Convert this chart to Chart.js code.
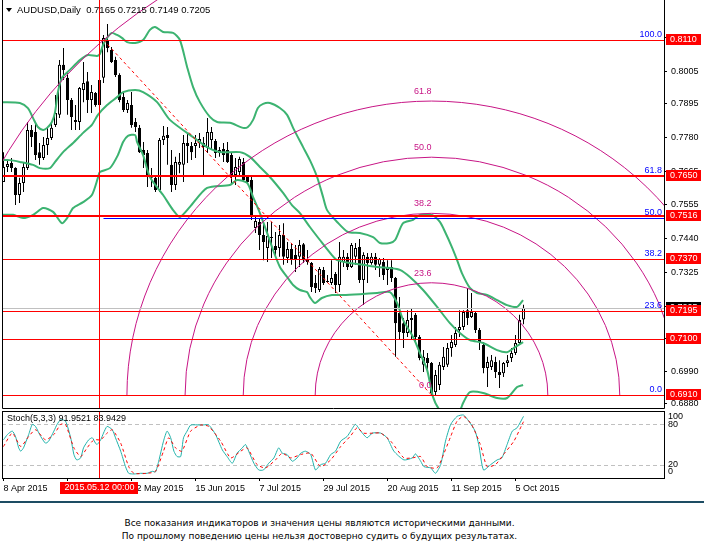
<!DOCTYPE html>
<html>
<head>
<meta charset="utf-8">
<title>AUDUSD, Daily</title>
<script src="https://cdn.jsdelivr.net/npm/chart.js@4.4.1/dist/chart.umd.min.js"></script>
<style>
  html, body { margin: 0; padding: 0; background: #fff; }
  body { position: relative; width: 704px; height: 552px; overflow: hidden; font-family: "Liberation Sans", Arial, sans-serif; }
  canvas { position: absolute; left: 0; }
  #main { top: 0; }
  #stoch { top: 400px; }
  #head { position: absolute; left: 6px; top: 4px; font-size: 9.5px; line-height: 12px; white-space: pre; color: #000; }
  #head .tri { display: inline-block; width: 0; height: 0; border-left: 3.5px solid transparent; border-right: 3.5px solid transparent; border-top: 4px solid #000; margin-right: 5px; vertical-align: 1px; }
  #rule { position: absolute; left: 0; top: 501px; width: 704px; height: 2px; background: #1d4c63; }
  #note { position: absolute; left: 0; top: 517px; width: 639px; text-align: center; font-family: "DejaVu Sans", sans-serif; font-size: 9px; line-height: 13px; color: #000; }
</style>
</head>
<body>
<canvas id="main" width="704" height="420"></canvas>
<canvas id="stoch" width="704" height="100"></canvas>
<div id="head"><span class="tri"></span><span id="headText"></span></div>
<div id="rule"></div>
<div id="note">Все показания индикаторов и значения цены являются историческими данными.<br>По прошлому поведению цены нельзя достоверно судить о будущих результатах.</div>
<script>
// daily bars, 8 Apr 2015 .. 7 Oct 2015 (index 0 .. 130)
const open = [0.7630,0.7681,0.7694,0.7677,0.7586,0.7627,0.7677,0.7806,0.7799,0.7731,0.7711,0.7755,0.7779,0.7823,0.7857,0.8026,0.7982,0.7907,0.7840,0.7833,
  0.7941,0.7971,0.7907,0.7931,0.7890,0.7982,0.8110,0.8076,0.8042,0.7992,0.7917,0.7873,0.7890,0.7833,0.7813,0.7738,0.7728,0.7650,0.7644,0.7603,
  0.7772,0.7789,0.7688,0.7620,0.7688,0.7688,0.7762,0.7752,0.7752,0.7762,0.7762,0.7745,0.7772,0.7769,0.7728,0.7742,0.7738,0.7721,0.7654,0.7664,
  0.7698,0.7647,0.7637,0.7475,0.7495,0.7451,0.7407,0.7444,0.7414,0.7407,0.7451,0.7373,0.7404,0.7383,0.7377,0.7420,0.7370,0.7356,0.7289,0.7265,
  0.7333,0.7295,0.7289,0.7319,0.7282,0.7360,0.7377,0.7343,0.7377,0.7410,0.7299,0.7377,0.7356,0.7377,0.7350,0.7360,0.7333,0.7343,0.7306,0.7187,
  0.7153,0.7120,0.7164,0.7181,0.7106,0.7012,0.7035,0.7018,0.6920,0.6944,0.7005,0.7012,0.7069,0.7079,0.7130,0.7140,0.7197,0.7174,0.7187,0.7130,
  0.7079,0.7001,0.7005,0.7022,0.6988,0.6984,0.7018,0.7035,0.7052,0.7086,0.7165];
const high = [0.7731,0.7704,0.7711,0.7680,0.7644,0.7698,0.7833,0.7823,0.7833,0.7762,0.7782,0.7816,0.7833,0.7924,0.8042,0.8083,0.7998,0.7914,0.7890,0.7951,
  0.8036,0.8002,0.7958,0.7934,0.7982,0.8127,0.8164,0.8086,0.8053,0.7998,0.7931,0.7907,0.7934,0.7846,0.7823,0.7765,0.7738,0.7677,0.7647,0.7779,
  0.7819,0.7816,0.7738,0.7715,0.7728,0.7789,0.7796,0.7765,0.7789,0.7796,0.7782,0.7846,0.7816,0.7775,0.7748,0.7762,0.7765,0.7728,0.7711,0.7715,
  0.7711,0.7654,0.7647,0.7512,0.7508,0.7495,0.7495,0.7495,0.7461,0.7485,0.7491,0.7427,0.7424,0.7417,0.7434,0.7424,0.7400,0.7360,0.7316,0.7343,
  0.7343,0.7316,0.7366,0.7326,0.7427,0.7400,0.7390,0.7424,0.7424,0.7437,0.7393,0.7390,0.7390,0.7390,0.7373,0.7373,0.7366,0.7366,0.7309,0.7241,
  0.7170,0.7197,0.7204,0.7187,0.7113,0.7062,0.7052,0.7022,0.6995,0.7022,0.7072,0.7086,0.7113,0.7140,0.7197,0.7197,0.7272,0.7255,0.7191,0.7137,
  0.7089,0.7039,0.7045,0.7039,0.7028,0.7022,0.7045,0.7069,0.7113,0.7181,0.7215];
const low = [0.7630,0.7664,0.7664,0.7552,0.7559,0.7596,0.7671,0.7748,0.7704,0.7688,0.7704,0.7721,0.7772,0.7816,0.7846,0.7975,0.7857,0.7806,0.7806,0.7806,
  0.7900,0.7863,0.7863,0.7884,0.7880,0.7965,0.8069,0.8032,0.7985,0.7900,0.7867,0.7863,0.7813,0.7799,0.7728,0.7677,0.7613,0.7613,0.7596,0.7596,
  0.7755,0.7688,0.7596,0.7603,0.7660,0.7630,0.7694,0.7704,0.7711,0.7745,0.7647,0.7728,0.7738,0.7711,0.7715,0.7698,0.7694,0.7627,0.7620,0.7654,
  0.7630,0.7627,0.7502,0.7458,0.7400,0.7366,0.7360,0.7373,0.7373,0.7377,0.7350,0.7356,0.7350,0.7326,0.7343,0.7356,0.7350,0.7258,0.7255,0.7258,
  0.7282,0.7289,0.7282,0.7255,0.7258,0.7343,0.7333,0.7339,0.7350,0.7289,0.7214,0.7289,0.7350,0.7333,0.7309,0.7299,0.7282,0.7292,0.7039,0.7096,
  0.7069,0.7106,0.7096,0.7086,0.7028,0.6988,0.6995,0.6910,0.6907,0.6927,0.6995,0.7005,0.7039,0.7072,0.7106,0.7130,0.7147,0.7170,0.7120,0.7062,
  0.6984,0.6937,0.6995,0.6968,0.6934,0.6971,0.7005,0.7022,0.7045,0.7079,0.7149];
const close = [0.7681,0.7691,0.7677,0.7586,0.7627,0.7681,0.7806,0.7782,0.7721,0.7711,0.7755,0.7779,0.7813,0.7863,0.8026,0.8009,0.7907,0.7850,0.7833,0.7948,
  0.7965,0.7907,0.7934,0.7890,0.7975,0.8117,0.8083,0.8036,0.7992,0.7907,0.7873,0.7897,0.7823,0.7816,0.7731,0.7721,0.7654,0.7644,0.7603,0.7772,
  0.7786,0.7779,0.7620,0.7698,0.7698,0.7762,0.7752,0.7731,0.7762,0.7775,0.7748,0.7799,0.7799,0.7728,0.7738,0.7721,0.7698,0.7654,0.7681,0.7708,
  0.7637,0.7630,0.7512,0.7498,0.7451,0.7427,0.7448,0.7441,0.7400,0.7451,0.7377,0.7404,0.7370,0.7370,0.7417,0.7366,0.7360,0.7275,0.7272,0.7336,
  0.7289,0.7292,0.7306,0.7282,0.7377,0.7377,0.7343,0.7417,0.7407,0.7299,0.7383,0.7356,0.7377,0.7350,0.7370,0.7316,0.7343,0.7306,0.7153,0.7123,
  0.7120,0.7164,0.7170,0.7106,0.7035,0.7039,0.7018,0.6917,0.6978,0.7012,0.7039,0.7069,0.7089,0.7120,0.7140,0.7191,0.7170,0.7191,0.7130,0.7089,
  0.7001,0.7022,0.7028,0.6988,0.6978,0.7018,0.7028,0.7052,0.7086,0.7164,0.7205];

// Bollinger bands (bar index, price)
const upperX = [-0.4,4.1,6.1,7.4,8.6,9.9,10.9,12.1,12.9,13.6,14.6,16.6,19.1,21.1,23.4,24.1,24.9,25.9,27.1,28.4,29.6,30.9,32.9,34.9,36.6,37.9,39.9,42.4,44.1,45.9,47.4,49.1,51.6,53.4,56.6,59.9,61.1,62.4,63.6,64.9,66.6,69.1,70.9,72.4,74.9,76.6,78.4,79.9,80.9,83.4,86.1,89.1,92.4,94.1,96.6,97.9,99.9,102.4,104.1,107.1,109.1,110.4,112.1,113.4,114.6,116.6,118.4,120.9,123.4,125.9,128.4,129.9];
const upperY = [0.7900,0.7897,0.7880,0.7846,0.7816,0.7806,0.7813,0.7833,0.7867,0.7934,0.7982,0.8009,0.8042,0.8059,0.8056,0.8063,0.8093,0.8117,0.8134,0.8127,0.8117,0.8103,0.8100,0.8110,0.8144,0.8154,0.8137,0.8134,0.8110,0.8019,0.7951,0.7900,0.7850,0.7833,0.7830,0.7813,0.7816,0.7840,0.7880,0.7894,0.7897,0.7880,0.7857,0.7813,0.7748,0.7704,0.7647,0.7579,0.7535,0.7495,0.7461,0.7458,0.7444,0.7424,0.7424,0.7434,0.7491,0.7502,0.7519,0.7519,0.7495,0.7461,0.7410,0.7366,0.7322,0.7272,0.7255,0.7248,0.7231,0.7214,0.7208,0.7231];
const middleX = [-0.4,1.6,4.1,7.4,9.1,11.6,12.9,14.9,17.4,19.9,22.1,23.6,25.9,28.4,29.9,32.9,34.9,38.4,41.6,48.4,50.9,54.1,59.1,61.6,64.1,66.6,69.9,72.1,74.1,76.6,79.1,82.1,83.4,86.6,89.9,93.4,96.6,99.1,101.6,104.9,108.4,111.6,114.1,116.6,119.9,123.4,125.9,127.9,129.9];
const middleY = [0.7704,0.7704,0.7698,0.7688,0.7677,0.7677,0.7698,0.7731,0.7762,0.7796,0.7823,0.7857,0.7890,0.7917,0.7934,0.7941,0.7934,0.7900,0.7840,0.7772,0.7748,0.7731,0.7731,0.7715,0.7681,0.7647,0.7593,0.7552,0.7525,0.7478,0.7434,0.7383,0.7366,0.7356,0.7350,0.7343,0.7339,0.7333,0.7309,0.7265,0.7208,0.7153,0.7120,0.7096,0.7086,0.7062,0.7055,0.7072,0.7089];
const lowerX = [-0.4,2.4,4.9,7.4,9.9,12.4,14.6,15.9,17.4,19.9,22.1,23.6,24.1,26.6,28.6,29.9,31.1,32.9,33.4,34.9,36.6,39.9,42.4,44.1,46.6,50.9,56.6,58.4,60.9,62.4,64.1,65.9,67.4,69.1,70.9,72.4,74.1,75.9,76.6,77.9,79.6,82.1,84.9,89.1,93.4,96.6,98.4,99.9,102.4,104.1,105.9,107.4,109.1,111.6,114.1,114.9,116.6,119.9,123.4,125.9,128.4,129.9];
const lowerY = [0.7519,0.7519,0.7508,0.7519,0.7542,0.7529,0.7491,0.7508,0.7542,0.7562,0.7586,0.7644,0.7664,0.7677,0.7721,0.7765,0.7786,0.7789,0.7765,0.7721,0.7647,0.7586,0.7535,0.7512,0.7546,0.7610,0.7620,0.7637,0.7627,0.7579,0.7525,0.7458,0.7400,0.7343,0.7309,0.7282,0.7265,0.7258,0.7241,0.7221,0.7238,0.7248,0.7248,0.7251,0.7255,0.7258,0.7221,0.7164,0.7106,0.7052,0.6995,0.6903,0.6859,0.6839,0.6859,0.6883,0.6920,0.6917,0.6900,0.6900,0.6937,0.6944];

// Stochastic (5,3,3)
const stochKx = [0,1,2.2,3,3.8,4.3,5,6.3,7.2,8,9.3,10.5,11.3,12.6,13.4,14.3,15.5,16.8,17.6,18.3,19.3,20,21.3,22.2,23,23.4,24.3,25,25.9,27.2,28,29.3,30.5,31.3,32.6,34.3,35.9,37.2,38,38.8,40,40.9,41.8,42.6,43.4,44.3,45,45.9,46.8,49.3,51.3,53,54.7,55.9,57.2,58.4,59.7,60.5,61.3,62.6,63.8,65,66.3,67.6,68.8,69.7,70.9,72.2,73.4,74.3,75.5,76.8,78,79.3,80.5,81.8,83,84.3,85.9,86.8,88,89.3,90.9,92.2,94.3,95.9,97.6,100.1,102.2,103,104.3,105.1,106.8,108,109.3,110.5,111.8,113.4,115,116.3,117.9,118.8,120,121.8,123.4,124.6,125.9,127.2,128.4,130];
const stochK = [57,65,70,62,45,40,45,65,80,77,62,52,55,70,80,87,85,60,35,27,30,45,57,60,52,50,57,67,77,72,60,40,17,7,6,7,7,10,9,25,55,70,60,40,32,32,60,70,79,79,79,65,42,32,22,37,45,50,40,22,12,12,22,30,45,37,35,25,30,37,40,35,12,20,22,35,40,55,62,70,80,70,60,67,67,60,40,27,30,36,25,17,15,7,20,55,80,92,94,85,70,50,12,20,27,30,50,70,75,92];
const stochDx = [0,2.2,4.3,6.3,8,10.5,12.6,14.3,15.5,17.6,19.3,20.9,22.6,24.3,25.9,27.2,29.3,31.3,32.6,35.9,38,40,41.3,43,44.6,46.8,49.3,51.3,54.3,56.8,59.3,60.9,63.4,65.5,68,69.7,71.8,74.3,76.8,79.3,81.8,84.3,86.8,88.4,90,92.6,94.3,96.8,100.1,102.2,104.3,105.9,108.4,110,111.8,113.4,115,117,119.2,120.9,123,125,127.6,129.5,130];
const stochD = [47,67,47,62,72,57,65,80,80,45,32,45,57,57,67,72,52,17,7,7,10,40,60,45,40,70,79,77,55,30,40,45,20,15,27,37,30,35,37,17,27,47,63,75,67,67,67,55,30,30,32,17,15,35,62,85,92,80,50,17,20,35,55,78,84];
const stochLast = [91.9521, 83.9429];
const stochLevels = [80, 20];
const stochAxis = [100, 80, 20, 0];

// axes
const priceTicks = [0.8120,0.8005,0.7895,0.7780,0.7665,0.7555,0.7440,0.7325,0.7210,0.7100,0.6990,0.6880];
const dateTicks = [0,16,32,48,64,80,96,112,128];
const dateLabels = ['8 Apr 2015','30 Apr 2015','22 May 2015','15 Jun 2015','7 Jul 2015','29 Jul 2015','20 Aug 2015','11 Sep 2015','5 Oct 2015'];
const cursorBar = 24;
const cursorLabel = '2015.05.12 00:00';

// drawn objects
const levels = [0.8110, 0.7650, 0.7516, 0.7370, 0.7195, 0.7100, 0.6910];
const thickLevels = [0.7650, 0.7516];
const fiboFrom = [25, 0.8110];
const fiboTo = [107, 0.6910];
const fiboLevels = [0, 23.6, 38.2, 50, 61.8, 100];

const symbol = 'AUDUSD,Daily';
const N = close.length;
const fmt = v => v.toFixed(4);
const green = '#3cb371';
const arcColor = '#c71585';
const arcAspect = 1.036;
const labelFont = '9px "Liberation Sans", Arial, sans-serif';

document.getElementById('headText').textContent =
  symbol + '  ' + [open[N - 1], high[N - 1], low[N - 1], close[N - 1]].map(fmt).join(' ');

const crisp = v => Math.round(v) + 0.5;

const mainOverlay = {
  id: 'mainOverlay',
  afterDatasetsDraw(chart) {
    const { ctx, chartArea: a, scales: { x, y } } = chart;
    const px = v => x.getPixelForValue(v), py = v => y.getPixelForValue(v);
    ctx.save();
    ctx.beginPath();
    ctx.rect(a.left, a.top, a.right - a.left, a.bottom - a.top);
    ctx.clip();

    const x1 = px(fiboFrom[0]), y1 = py(fiboFrom[1]);
    const x2 = px(fiboTo[0]), y2 = py(fiboTo[1]);
    const ry = Math.hypot((x2 - x1) / arcAspect, y2 - y1);
    const rx = ry * arcAspect;

    // fibo arcs
    ctx.lineWidth = 1;
    ctx.strokeStyle = arcColor;
    fiboLevels.forEach(lv => {
      if (!lv) return;
      ctx.beginPath();
      ctx.ellipse(x2, y2, rx * lv / 100, ry * lv / 100, 0, Math.PI, 2 * Math.PI);
      ctx.stroke();
    });

    // trend line of the arcs
    ctx.strokeStyle = '#ff0000';
    ctx.setLineDash([3, 3]);
    ctx.beginPath();
    ctx.moveTo(x1, y1);
    ctx.lineTo(x2, y2);
    ctx.stroke();
    ctx.setLineDash([]);

    // fibo retracement rays
    const span = fiboFrom[1] - fiboTo[1];
    ctx.strokeStyle = '#0000ff';
    fiboLevels.forEach(lv => {
      const yy = crisp(py(fiboTo[1] + span * lv / 100));
      ctx.beginPath();
      ctx.moveTo(x1, yy);
      ctx.lineTo(a.right, yy);
      ctx.stroke();
    });

    // bid line
    ctx.strokeStyle = '#c0c0c0';
    const by = crisp(py(close[N - 1]));
    ctx.beginPath();
    ctx.moveTo(a.left, by);
    ctx.lineTo(a.right, by);
    ctx.stroke();

    // horizontal levels
    ctx.strokeStyle = '#ff0000';
    levels.forEach(v => {
      const thick = thickLevels.includes(v);
      ctx.lineWidth = thick ? 2 : 1;
      const yy = thick ? Math.round(py(v)) : crisp(py(v));
      ctx.beginPath();
      ctx.moveTo(a.left, yy);
      ctx.lineTo(a.right, yy);
      ctx.stroke();
    });

    // cursor line
    ctx.lineWidth = 1;
    const cx = Math.floor(px(cursorBar)) + 0.5;
    ctx.beginPath();
    ctx.moveTo(cx, a.top);
    ctx.lineTo(cx, a.bottom);
    ctx.stroke();

    // labels
    ctx.font = labelFont;
    ctx.textAlign = 'right';
    ctx.textBaseline = 'alphabetic';
    ctx.fillStyle = arcColor;
    fiboLevels.forEach(lv => ctx.fillText(lv.toFixed(1), x2, y2 - ry * lv / 100 - 7));
    ctx.fillStyle = '#0000ff';
    fiboLevels.forEach(lv => ctx.fillText(lv.toFixed(1), a.right - 2, py(fiboTo[1] + span * lv / 100) - 3));
    ctx.restore();

    // frame
    ctx.save();
    ctx.strokeStyle = '#000';
    ctx.lineWidth = 1;
    ctx.beginPath();
    ctx.moveTo(a.left + 0.5, a.top);
    ctx.lineTo(a.left + 0.5, a.bottom + 0.5);
    ctx.lineTo(a.right + 0.5, a.bottom + 0.5);
    ctx.lineTo(a.right + 0.5, a.top);
    ctx.stroke();
    ctx.restore();
  },
  afterDraw(chart) {
    const { ctx, chartArea: a, scales: { y } } = chart;
    ctx.save();
    ctx.font = labelFont;
    ctx.textAlign = 'left';
    ctx.textBaseline = 'middle';
    const box = (v, bg) => {
      const top = Math.round(y.getPixelForValue(v)) - 6;
      ctx.fillStyle = bg;
      ctx.fillRect(a.right + 2, top, 35, 11);
      ctx.fillStyle = '#fff';
      ctx.fillText(fmt(v), a.right + 6, top + 6);
    };
    box(close[N - 1], '#000');
    levels.forEach(v => box(v, '#ff0000'));
    ctx.restore();
  }
};

const stochOverlay = {
  id: 'stochOverlay',
  beforeDatasetsDraw(chart) {
    const { ctx, chartArea: a, scales: { y } } = chart;
    ctx.save();
    ctx.strokeStyle = '#c0c0c0';
    ctx.lineWidth = 1;
    ctx.setLineDash([4, 3]);
    stochLevels.forEach(v => {
      const yy = crisp(y.getPixelForValue(v));
      ctx.beginPath();
      ctx.moveTo(a.left, yy);
      ctx.lineTo(a.right, yy);
      ctx.stroke();
    });
    ctx.restore();
  },
  afterDatasetsDraw(chart) {
    const { ctx, chartArea: a, scales: { x } } = chart;
    ctx.save();
    ctx.strokeStyle = '#ff0000';
    ctx.lineWidth = 1;
    const cx = Math.floor(x.getPixelForValue(cursorBar)) + 0.5;
    ctx.beginPath();
    ctx.moveTo(cx, a.top);
    ctx.lineTo(cx, a.bottom);
    ctx.stroke();
    ctx.strokeStyle = '#000';
    ctx.strokeRect(a.left + 0.5, a.top + 0.5, a.right - a.left, a.bottom - a.top);
    ctx.font = labelFont;
    ctx.fillStyle = '#000';
    ctx.textAlign = 'left';
    ctx.textBaseline = 'middle';
    ctx.fillText('Stoch(5,3,3) ' + stochLast.map(fmt).join(' '), a.left + 5, a.top + 8);
    ctx.restore();
  },
  afterDraw(chart) {
    const { ctx, chartArea: a, scales: { x, y } } = chart;
    ctx.save();
    ctx.font = labelFont;
    ctx.textBaseline = 'middle';
    ctx.textAlign = 'left';
    ctx.fillStyle = '#000';
    stochAxis.forEach(v => {
      const nudge = v === 100 ? 6 : v === 0 ? -6 : 0;
      ctx.fillText(String(v), a.right + 4, y.getPixelForValue(v) + nudge);
    });
    const cx = x.getPixelForValue(cursorBar);
    ctx.fillStyle = '#ff0000';
    ctx.fillRect(Math.round(cx - 39.5), a.bottom + 4, 78, 12);
    ctx.fillStyle = '#fff';
    ctx.textAlign = 'center';
    ctx.fillText(cursorLabel, cx, a.bottom + 10);
    ctx.restore();
  }
};

const xRange = { min: -0.375, max: 165.125 };

new Chart(document.getElementById('main'), {
  type: 'bar',
  data: {
    datasets: [
      { type: 'line', label: 'upper', data: upperX.map((v, k) => ({ x: v, y: upperY[k] })),
        borderColor: green, borderWidth: 2, pointRadius: 0, tension: 0.25, order: 1 },
      { type: 'line', label: 'middle', data: middleX.map((v, k) => ({ x: v, y: middleY[k] })),
        borderColor: green, borderWidth: 2, pointRadius: 0, tension: 0.25, order: 1 },
      { type: 'line', label: 'lower', data: lowerX.map((v, k) => ({ x: v, y: lowerY[k] })),
        borderColor: green, borderWidth: 2, pointRadius: 0, tension: 0.25, order: 1 },
      { label: 'body', data: open.map((o, i) => ({ x: i, y: [o, close[i]] })),
        backgroundColor: c => close[c.dataIndex] >= open[c.dataIndex] ? '#ffffff' : '#000000',
        borderColor: '#000', borderWidth: 1, borderSkipped: false, barThickness: 3,
        minBarLength: 1, inflateAmount: 0, grouped: false, order: 2 },
      { label: 'wick', data: low.map((l, i) => ({ x: i, y: [l, high[i]] })),
        backgroundColor: '#000', barThickness: 1, inflateAmount: 0, grouped: false, order: 3 }
    ]
  },
  options: {
    responsive: false,
    animation: false,
    events: [],
    layout: { padding: { left: 2, right: 0, top: 0, bottom: 12 } },
    plugins: { legend: { display: false }, tooltip: { enabled: false } },
    scales: {
      x: { type: 'linear', ...xRange, offset: false, display: false },
      y: {
        type: 'linear', position: 'right', min: 0.68662, max: 0.82452,
        afterBuildTicks: s => { s.ticks = priceTicks.map(v => ({ value: v })); },
        afterFit: s => { s.width = 40; s.paddingTop = 0; s.paddingBottom = 0; },
        border: { display: false },
        grid: { drawOnChartArea: false, drawTicks: true, tickLength: 3, color: '#000' },
        ticks: { autoSkip: false, padding: 4, color: '#000', font: { family: '"Liberation Sans", Arial', size: 9 }, callback: v => fmt(v) }
      }
    }
  },
  plugins: [mainOverlay]
});

new Chart(document.getElementById('stoch'), {
  type: 'line',
  data: {
    datasets: [
      { label: '%D', data: stochDx.map((v, k) => ({ x: v, y: stochD[k] })),
        borderColor: '#ff0000', borderWidth: 1, borderDash: [3, 3], pointRadius: 0, tension: 0.2, order: 0 },
      { label: '%K', data: stochKx.map((v, k) => ({ x: v, y: stochK[k] })),
        borderColor: '#20b2aa', borderWidth: 1, pointRadius: 0, tension: 0.2, order: 1 }
    ]
  },
  options: {
    responsive: false,
    animation: false,
    events: [],
    layout: { padding: { left: 2, right: 0, top: 11, bottom: 0 } },
    plugins: { legend: { display: false }, tooltip: { enabled: false } },
    scales: {
      x: {
        type: 'linear', ...xRange, offset: false,
        afterBuildTicks: s => { s.ticks = dateTicks.map(v => ({ value: v })); },
        afterFit: s => { s.height = 22; },
        border: { display: false },
        grid: { drawOnChartArea: false, drawTicks: true, tickLength: 3, color: '#000' },
        ticks: { autoSkip: false, maxRotation: 0, align: 'start', padding: 2, color: '#000',
          font: { family: '"Liberation Sans", Arial', size: 9 }, callback: (v, i) => dateLabels[i] }
      },
      y: {
        type: 'linear', position: 'right', min: 0, max: 100,
        afterFit: s => { s.width = 40; },
        border: { display: false },
        grid: { display: false },
        ticks: { display: false }
      }
    }
  },
  plugins: [stochOverlay]
});
</script>
</body>
</html>
